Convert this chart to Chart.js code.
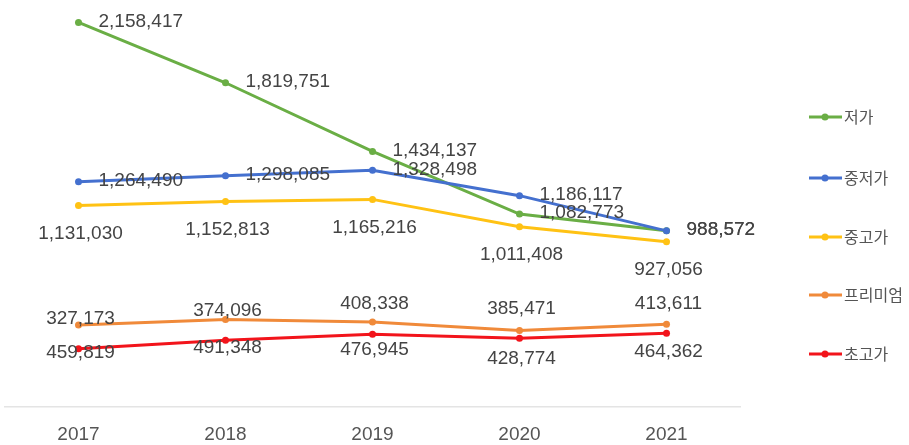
<!DOCTYPE html>
<html>
<head>
<meta charset="utf-8">
<script src="https://cdn.jsdelivr.net/npm/chart.js@4/dist/chart.umd.min.js"></script>
<style>
    html, body { margin: 0; padding: 0; background: #ffffff; }
    #chart { display: block; }
</style>
</head>
<body>
<canvas id="chart" width="909" height="445"></canvas>
<script>
const years = ["2017", "2018", "2019", "2020", "2021"];

const low = [2158417, 1819751, 1434137, 1082773, 988572];
const midLow = [1264490, 1298085, 1328498, 1186117, 988572];
const midHigh = [1131030, 1152813, 1165216, 1011408, 927056];
const premium = [459819, 491348, 476945, 428774, 464362];
const ultra = [327173, 374096, 408338, 385471, 413611];

const seriesNames = ["저가", "중저가", "중고가", "프리미엄", "초고가"];
const seriesColors = ["#6aae45", "#4470cf", "#ffc214", "#f08a3a", "#f2141b"];

// where each series puts its value labels
const labelSides = ["right", "right", "below", "below", "above"];

const valueLabels = {
    id: "valueLabels",
    afterDatasetsDraw(chart) {
        const ctx = chart.ctx;
        ctx.save();
        ctx.font = "19px 'Liberation Sans', Arial, sans-serif";
        ctx.fillStyle = "#444444";
        ctx.textBaseline = "middle";
        chart.data.datasets.forEach((ds, i) => {
            const meta = chart.getDatasetMeta(i);
            meta.data.forEach((pt, j) => {
                const text = ds.data[j].toLocaleString("en-US");
                let side = ds.labelSide;
                if (side === "right") {
                    ctx.textAlign = "left";
                    ctx.fillText(text, pt.x + 20, pt.y - 1);
                } else if (side === "below") {
                    ctx.textAlign = "center";
                    ctx.fillText(text, pt.x + 2, pt.y + 28);
                } else {
                    ctx.textAlign = "center";
                    ctx.fillText(text, pt.x + 2, pt.y - 30);
                }
            });
        });
        ctx.restore();
    },
};

// legend column on the right: short line with a dot, then the name
const sideLegend = {
    id: "sideLegend",
    afterDraw(chart) {
        const ctx = chart.ctx;
        const x0 = 809;
        const rowY = [117, 178, 237, 295, 354];
        ctx.save();
        chart.data.datasets.forEach((ds, i) => {
            const y = rowY[i];
            ctx.strokeStyle = ds.borderColor;
            ctx.lineWidth = 3;
            ctx.beginPath();
            ctx.moveTo(x0, y);
            ctx.lineTo(x0 + 33, y);
            ctx.stroke();
            ctx.fillStyle = ds.borderColor;
            ctx.beginPath();
            ctx.arc(x0 + 16, y, 3.5, 0, Math.PI * 2);
            ctx.fill();
            ctx.fillStyle = "#555555";
            ctx.font = "16px 'Noto Sans CJK KR', sans-serif";
            ctx.textAlign = "left";
            ctx.textBaseline = "middle";
            ctx.fillText(ds.label, x0 + 35, y);
        });
        ctx.restore();
    },
};

const values = [low, midLow, midHigh, premium, ultra];
const drawOrder = [4, 1, 3, 2, 0];

const datasets = values.map((data, i) => ({
    label: seriesNames[i],
    data: data,
    borderColor: seriesColors[i],
    backgroundColor: seriesColors[i],
    borderWidth: 3,
    pointRadius: 3.5,
    pointHoverRadius: 3.5,
    pointBorderWidth: 0,
    tension: 0,
    order: drawOrder[i],
    labelSide: labelSides[i],
}));

new Chart(document.getElementById("chart"), {
    type: "line",
    data: {
        labels: years,
        datasets,
    },
    options: {
        responsive: false,
        animation: false,
        layout: {
            padding: { top: 15, left: 5, right: 169, bottom: 0 },
        },
        plugins: {
            legend: { display: false },
            tooltip: { enabled: false },
        },
        scales: {
            x: {
                offset: true,
                grid: { display: false, drawTicks: false },
                border: { display: true, color: "#e4e4e4", width: 1.5 },
                ticks: {
                    color: "#555555",
                    padding: 16,
                    font: { family: "'Liberation Sans', Arial, sans-serif", size: 19 },
                },
                afterFit(scale) {
                    scale.height = 38;
                },
            },
            y: {
                display: false,
                min: 0,
                max: 2200000,
            },
        },
    },
    plugins: [valueLabels, sideLegend],
});
</script>
</body>
</html>
